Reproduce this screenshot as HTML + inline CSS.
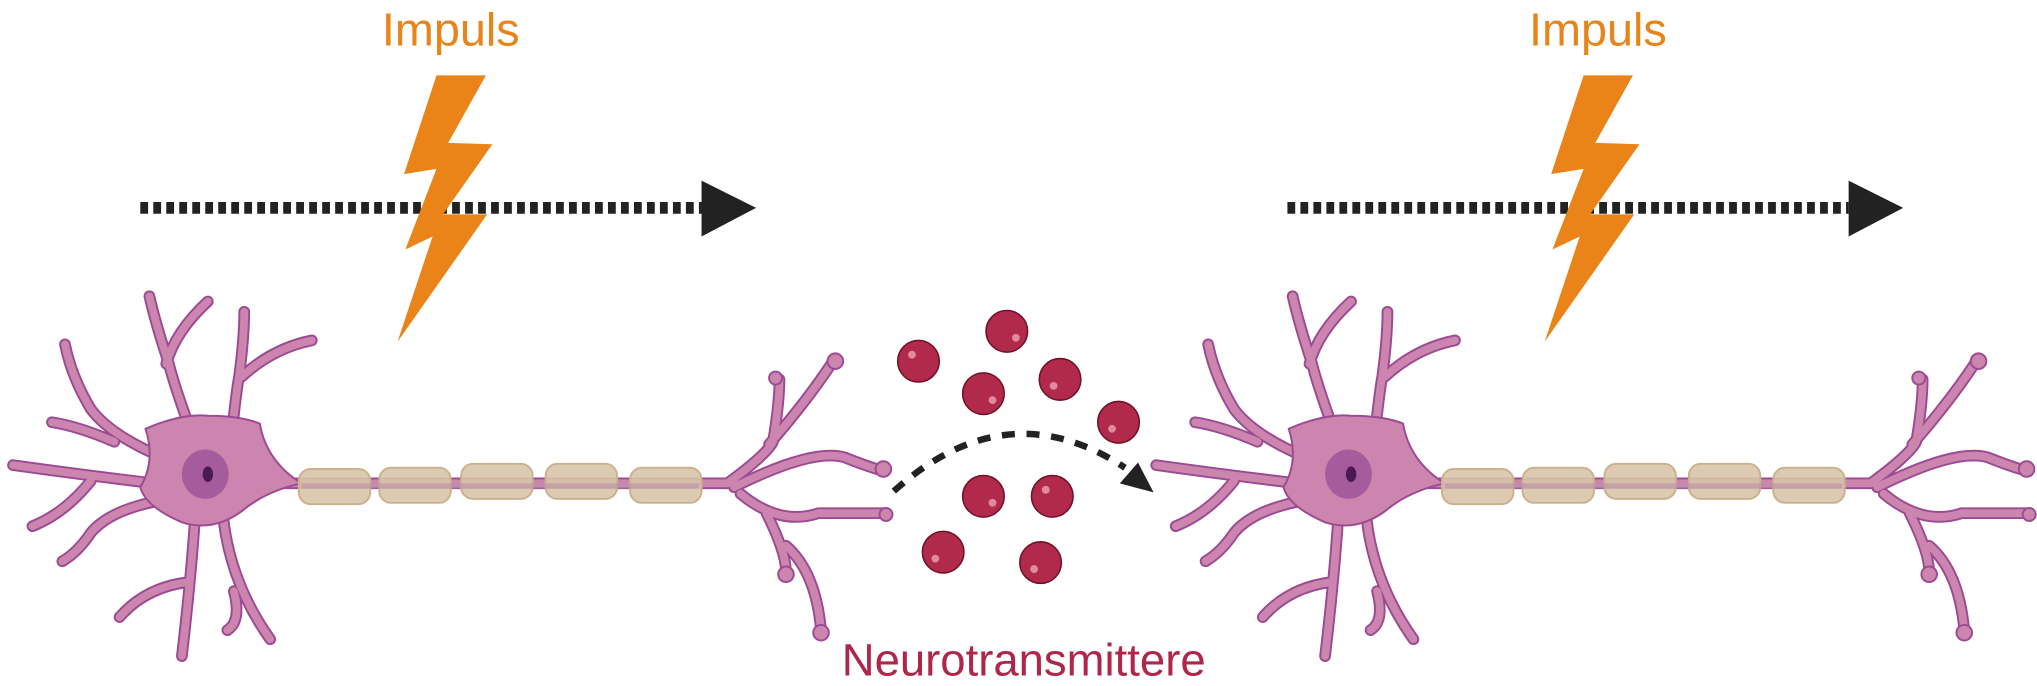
<!DOCTYPE html>
<html><head><meta charset="utf-8"><style>
html,body{margin:0;padding:0;background:#fff;}
svg{display:block}
</style></head><body>
<svg width="2037" height="686" viewBox="0 0 1568 528" preserveAspectRatio="none" xmlns="http://www.w3.org/2000/svg">
<defs>
<g id="neuron">
  <g fill="none" stroke-linecap="round" stroke-linejoin="round">
    <g stroke="#9B4A93" stroke-width="9">
      <path d="M150,340 Q135,300 130,280 Q120,250 115,228 M128,280 Q135,255 160,232"/>
      <path d="M178,338 Q182,300 184,290 Q188,260 188,240 M186,290 Q210,268 240,262"/>
      <path d="M125,352 Q85,335 70,315 Q55,290 50,265 M88,340 Q60,328 40,325"/>
      <path d="M118,372 Q60,365 10,358 M70,370 Q50,395 25,405"/>
      <path d="M125,385 Q85,392 70,410 Q60,425 48,432"/>
      <path d="M150,400 Q147,445 140,505 M145,448 Q112,452 92,475"/>
      <path d="M172,400 Q178,450 208,492 M180,455 Q186,478 175,485"/>
      <path d="M210,372 L560,372"/>
      <path d="M560,372 Q590,350 595,340 Q600,310 600,292 M592,342 Q620,310 640,280 M565,375 Q625,345 650,352 Q665,358 678,362 M570,380 Q600,405 630,395 L682,395 M590,395 Q605,425 605,440 M605,420 Q628,440 632,485"/>
    </g>
    <g stroke="#CC85AE" stroke-width="6">
      <path d="M150,340 Q135,300 130,280 Q120,250 115,228 M128,280 Q135,255 160,232"/>
      <path d="M178,338 Q182,300 184,290 Q188,260 188,240 M186,290 Q210,268 240,262"/>
      <path d="M125,352 Q85,335 70,315 Q55,290 50,265 M88,340 Q60,328 40,325"/>
      <path d="M118,372 Q60,365 10,358 M70,370 Q50,395 25,405"/>
      <path d="M125,385 Q85,392 70,410 Q60,425 48,432"/>
      <path d="M150,400 Q147,445 140,505 M145,448 Q112,452 92,475"/>
      <path d="M172,400 Q178,450 208,492 M180,455 Q186,478 175,485"/>
      <path d="M210,372 L560,372"/>
      <path d="M560,372 Q590,350 595,340 Q600,310 600,292 M592,342 Q620,310 640,280 M565,375 Q625,345 650,352 Q665,358 678,362 M570,380 Q600,405 630,395 L682,395 M590,395 Q605,425 605,440 M605,420 Q628,440 632,485"/>
    </g>
  </g>
  <g fill="#CC85AE" stroke="#9B4A93" stroke-width="1.5">
    <circle cx="597" cy="291" r="5"/><circle cx="643" cy="278" r="6"/><circle cx="680" cy="361" r="6"/><circle cx="682" cy="396" r="5"/><circle cx="605" cy="442" r="6"/><circle cx="632" cy="487" r="6"/>
  </g>
  <path d="M112,330 Q140,318 160,320 Q185,320 200,326 Q205,355 232,372 Q205,378 188,392 Q165,410 140,402 Q112,390 108,375 Q120,355 112,330Z" fill="#CC85AE" stroke="#9B4A93" stroke-width="1.5"/>
  <ellipse cx="158" cy="365" rx="18" ry="19" fill="#A45C9C"/>
  <ellipse cx="160" cy="365" rx="4" ry="6" fill="#4A1A56"/>
  <g fill="#D8C4AA" fill-opacity="0.9" stroke="#CBB28E" stroke-width="1.5">
    <rect x="230" y="361" width="55" height="27" rx="9"/>
    <rect x="292" y="360" width="55" height="27" rx="9"/>
    <rect x="355" y="357" width="55" height="27" rx="9"/>
    <rect x="420" y="357" width="55" height="27" rx="9"/>
    <rect x="485" y="360" width="55" height="27" rx="9"/>
  </g>
  <g stroke="#B891A8" stroke-width="4" opacity="0.6">
    <path d="M232,374 L538,374"/>
  </g>
</g>
<g id="arr">
  <line x1="108" y1="160" x2="540" y2="160" stroke="#222" stroke-width="9" stroke-dasharray="6 4"/>
  <polygon points="540,139 540,182 582,160" fill="#222"/>
  <text x="347" y="35" text-anchor="middle" font-family="Liberation Sans, sans-serif" font-size="36" fill="#E8841A">Impuls</text>
  <polygon points="336,58 374,58 345,110 379,111 341,165 375,165 306,263 333,182 312,192 336,130 311,134" fill="#EA8419"/>
</g>
</defs>
<use href="#neuron"/>
<use href="#neuron" transform="translate(880,0)"/>
<use href="#arr"/>
<use href="#arr" transform="translate(883,0)"/>
<g fill="#B12A4C" stroke="#6E1328" stroke-width="1.2">
  <circle cx="707" cy="278" r="16"/><circle cx="775" cy="255" r="16"/><circle cx="757" cy="303" r="16"/><circle cx="816" cy="292" r="16"/><circle cx="861" cy="325" r="16"/><circle cx="757" cy="382" r="16"/><circle cx="810" cy="382" r="16"/><circle cx="726" cy="425" r="16"/><circle cx="801" cy="433" r="16"/>
</g>
<g fill="#E08A9C">
  <circle cx="702" cy="273" r="3"/><circle cx="782" cy="260" r="3"/><circle cx="764" cy="308" r="3"/><circle cx="811" cy="297" r="3"/><circle cx="856" cy="330" r="3"/><circle cx="764" cy="387" r="3"/><circle cx="805" cy="377" r="3"/><circle cx="720" cy="430" r="3"/><circle cx="796" cy="438" r="3"/>
</g>
<path d="M688,378 Q775,300 866,360" fill="none" stroke="#222" stroke-width="5" stroke-dasharray="10 9"/>
<polygon points="876,356 888,379 862,372" fill="#222"/>
<text x="788" y="520" text-anchor="middle" font-family="Liberation Sans, sans-serif" font-size="35" fill="#B0254A">Neurotransmittere</text>
</svg>
</body></html>
